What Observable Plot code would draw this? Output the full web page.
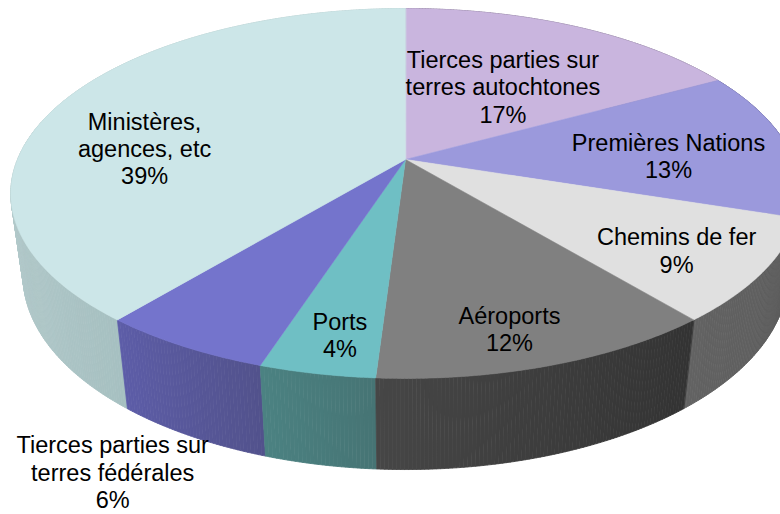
<!DOCTYPE html>
<html><head><meta charset="utf-8">
<script src="https://cdn.jsdelivr.net/npm/d3@7"></script>
<script src="https://cdn.jsdelivr.net/npm/@observablehq/plot@0.6"></script>
<style>html,body{margin:0;padding:0;background:#fff;overflow:hidden}</style>
</head><body><div id="chart"></div>
<script>
// ---- data ----
const categories = [
  "Tierces parties sur\nterres autochtones",
  "Premières Nations",
  "Chemins de fer",
  "Aéroports",
  "Ports",
  "Tierces parties sur\nterres fédérales",
  "Ministères,\nagences, etc"
];
const values = [17, 13, 9, 12, 4, 6, 39];

// ---- styles ----
const topColors       = ["#c9b5de", "#9b99dc", "#e0e0e0", "#808080", "#6fbfc4", "#7474cc", "#cce6e8"];
const wallLeftColors  = ["#7a6e88", "#5e5c8c", "#626262", "#464646", "#4b8282", "#5d5da8", "#b5cbcc"];
const wallRightColors = ["#7a6e88", "#5a588a", "#5c5c5c", "#333333", "#467474", "#52528c", "#a6c0c1"];
// label layout: radial position (fraction of radius) and vertical nudge (px)
const labelRadius = [0.535, 0.689, 0.777, 0.753, 0.776, 1.251, 0.748];
const labelNudge  = [3, 8, 6, 22, 17, 67, 32];

// ---- 3D perspective model ----
const K = 0.1837;   // perspective strength (front larger)
const M = 0.031;    // vertical convergence
const HB = 0.47;    // thickness relative to vertical radius
const BPX = 178.7;  // vertical radius in px (for nudges)
function proj(u, v, h) {
  const w = 1 - K * v + M * h;
  return [u / w, (v + HB * h) / w];
}
const total = d3.sum(values);
const cum = d3.cumsum(values).map(c => c / total);
const starts = [0, ...cum.slice(0, -1)];
const TAU = 2 * Math.PI;
const visLo = 100.4 * Math.PI / 180, visHi = 259.6 * Math.PI / 180;

const tops = [], walls = [];
const wallStrips = [];
values.forEach((val, i) => {
  const a0 = starts[i] * TAU, a1 = cum[i] * TAU;
  const n = Math.max(2, Math.ceil((a1 - a0) / (0.5 * Math.PI / 180)));
  // top face
  const p0 = proj(0, 0, 0);
  tops.push({id: "t" + i, x: p0[0], y: p0[1], c: topColors[i]});
  for (let j = 0; j <= n; j++) {
    const a = a0 + (a1 - a0) * j / n;
    const p = proj(Math.sin(a), -Math.cos(a), 0);
    tops.push({id: "t" + i, x: p[0], y: p[1], c: topColors[i]});
  }
  // wall strips
  const lo = Math.max(a0, visLo), hi = Math.min(a1, visHi);
  const interp = d3.interpolateRgb(wallRightColors[i], wallLeftColors[i]);
  for (let j = 0; j < n; j++) {
    const a = a0 + (a1 - a0) * j / n, b = a0 + (a1 - a0) * (j + 1) / n;
    const m = (a + b) / 2;
    let t = hi > lo ? (m - lo) / (hi - lo) : 0.5;
    t = Math.max(0, Math.min(1, t));
    const col = d3.color(interp(t)).formatHex();
    const pts = [
      proj(Math.sin(a), -Math.cos(a), 0),
      proj(Math.sin(b), -Math.cos(b), 0),
      proj(Math.sin(b), -Math.cos(b), 1),
      proj(Math.sin(a), -Math.cos(a), 1)
    ];
    wallStrips.push({key: -Math.cos(m), id: "w" + i + "_" + j, pts, c: col});
  }
});
wallStrips.sort((p, q) => p.key - q.key);
for (const s of wallStrips) for (const p of s.pts) walls.push({id: s.id, x: p[0], y: p[1], c: s.c});

const labels = categories.map((cat, i) => {
  const am = (starts[i] + cum[i]) / 2 * TAU;
  const r = labelRadius[i];
  const p = proj(r * Math.sin(am), -r * Math.cos(am), 0);
  return {x: p[0], y: p[1] + labelNudge[i] / BPX, text: cat + "\n" + values[i] + "%"};
});

const x0 = 405, A = 388, y0 = 159;
const chart = Plot.plot({
  width: 780, height: 514,
  margin: 0,
  x: {domain: [-1, 1], range: [x0 - A, x0 + A], axis: null},
  y: {domain: [-1, 1], range: [y0 - BPX, y0 + BPX], axis: null},
  color: {type: "identity"},
  style: {background: "white", overflow: "hidden"},
  marks: [
    Plot.line(walls, {x: "x", y: "y", z: "id", fill: "c", stroke: "c", strokeWidth: 0.8, curve: "linear-closed"}),
    Plot.line(tops, {x: "x", y: "y", z: "id", fill: "c", stroke: "c", strokeWidth: 0.6, curve: "linear-closed"}),
    Plot.text(labels, {x: "x", y: "y", text: "text", fontSize: 23.5, lineHeight: 1.16,
      fontFamily: "'Liberation Sans', Arial, sans-serif", fill: "#000", textAnchor: "middle"})
  ]
});
document.getElementById("chart").appendChild(chart);
</script>
</body></html>
